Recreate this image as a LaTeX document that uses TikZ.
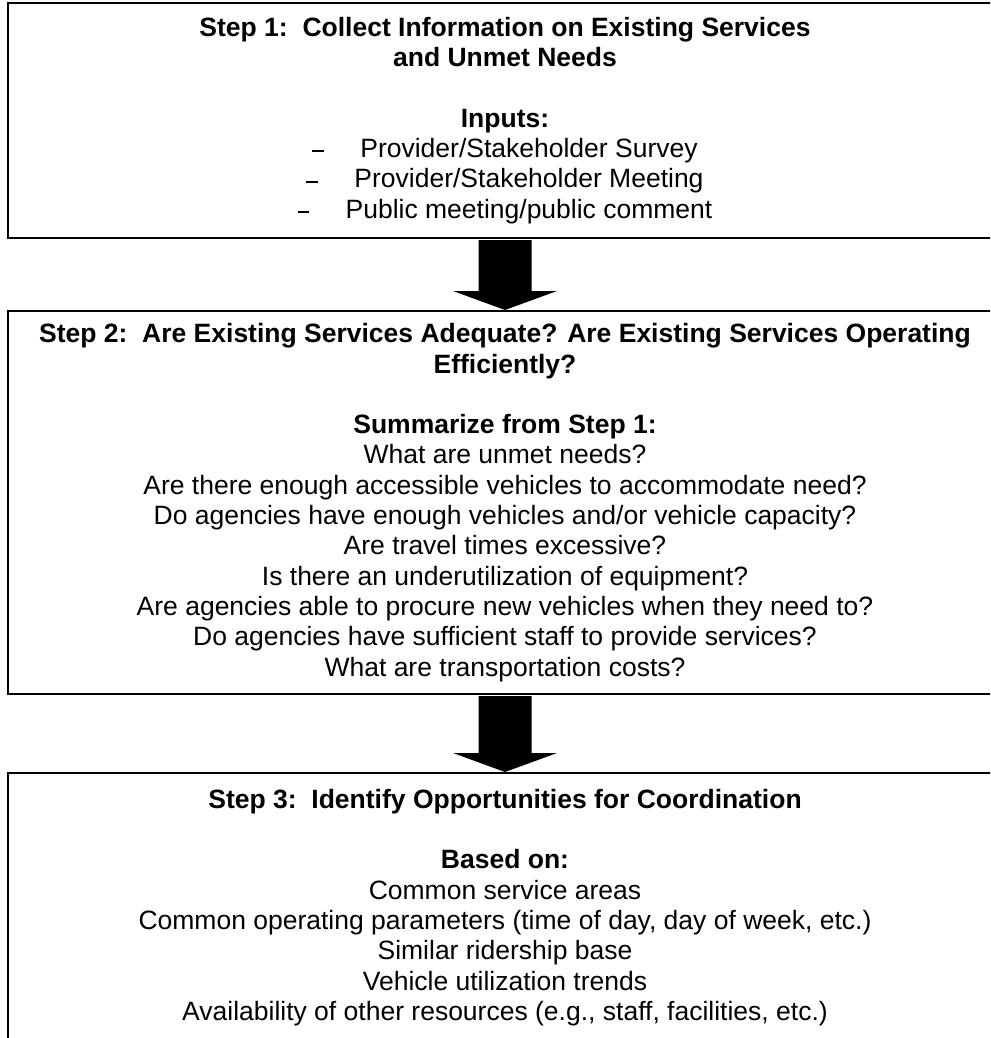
\documentclass[tikz,border=0pt]{standalone}
\usepackage{fontspec}
\setmainfont{Liberation Sans}
\usetikzlibrary{calc}

\tikzset{
  stepbox/.style={draw, line width=1pt, minimum width=497pt, inner sep=0pt,
    anchor=north, align=center, font=\fontsize{13.25}{15.15}\selectfont},
  flowarrow/.style={fill=black},
}
% short dash, a tab, then the item
\newcommand{\inputitem}[1]{\makebox[24pt][l]{\rule[0.2em]{5.8pt}{1pt}}#1}

\begin{document}
\begin{tikzpicture}[x=0.5pt, y=-0.5pt]
  \path[use as bounding box, clip] (0,0) rectangle (990,1038);

  \node[stepbox, minimum height=117.5pt] (s1) at (505,2) {%
    \textbf{Step 1:\ \ Collect Information on Existing Services}\\
    \textbf{and Unmet Needs}\\[15.15pt]
    \textbf{Inputs:}\\
    \inputitem{Provider/Stakeholder Survey}\\
    \inputitem{Provider/Stakeholder Meeting}\\
    \inputitem{Public meeting/public comment}};

  \node[stepbox, minimum height=191.5pt] (s2) at (505,310) {%
    \textbf{Step 2:\ \ Are Existing Services Adequate? Are Existing Services Operating}\\
    \textbf{Efficiently?}\\[15.15pt]
    \textbf{Summarize from Step 1:}\\
    What are unmet needs?\\
    Are there enough accessible vehicles to accommodate need?\\
    Do agencies have enough vehicles and/or vehicle capacity?\\
    Are travel times excessive?\\
    Is there an underutilization of equipment?\\
    Are agencies able to procure new vehicles when they need to?\\
    Do agencies have sufficient staff to provide services?\\
    What are transportation costs?};

  \node[stepbox, minimum height=134.5pt] (s3) at (505,772) {%
    \textbf{Step 3:\ \ Identify Opportunities for Coordination}\\[15.15pt]
    \textbf{Based on:}\\
    Common service areas\\
    Common operating parameters (time of day, day of week, etc.)\\
    Similar ridership base\\
    Vehicle utilization trends\\
    Availability of other resources (e.g., staff, facilities, etc.)};

  % block arrows between the steps
  \foreach \a/\b in {s1/s2, s2/s3} {
    \fill[flowarrow] ($(\a.south)+(-26.5,1)$) -- ($(\a.south)+(26.5,1)$)
      -- ($(\b.north)+(26.5,-19)$) -- ($(\b.north)+(52,-19)$) -- (\b.north)
      -- ($(\b.north)+(-52,-19)$) -- ($(\b.north)+(-26.5,-19)$) -- cycle;
  }
\end{tikzpicture}
\end{document}
